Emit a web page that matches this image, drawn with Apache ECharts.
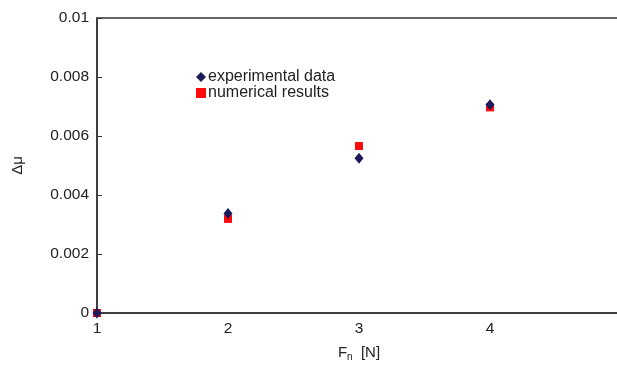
<!DOCTYPE html>
<html lang="en">
<head>
    <meta charset="utf-8">
    <title>Δμ vs Fn</title>
    <script src="https://cdn.jsdelivr.net/npm/echarts@6/dist/echarts.min.js"></script>
    <style>
        html, body { margin: 0; padding: 0; background: #fff; }
        #main { width: 617px; height: 365px; }
    </style>
</head>
<body>
<div id="main"></div>
<script type="text/javascript">
    // data
    var forces = [1, 2, 3, 4];
    var experimental = [0, 0.00337, 0.00525, 0.00706];
    var numerical = [0, 0.00319, 0.00566, 0.00697];
    var xTicks = [1, 2, 3, 4, 5];
    var yTicks = [0, 0.002, 0.004, 0.006, 0.008, 0.01];

    function pairs(xs, ys) {
        return xs.map(function (x, i) { return [x, ys[i]]; });
    }

    var font = 'Liberation Sans, Arial, sans-serif';
    var myChart = echarts.init(document.getElementById('main'));

    myChart.setOption({
        animation: false,
        textStyle: {fontFamily: font},
        grid: {
            left: 97, right: -4, top: 18, bottom: 52,
            containLabel: false,
            outerBoundsMode: 'none',
            show: true, borderColor: '#333', borderWidth: 1.5
        },
        legend: {
            orient: 'vertical',
            left: 191, top: 64,
            itemGap: 0,
            itemWidth: 10, itemHeight: 10,
            textStyle: {fontSize: 16, color: '#222', fontFamily: font, padding: [0, 0, 0, -3]},
            data: ['experimental data', 'numerical results']
        },
        xAxis: {
            type: 'value',
            min: xTicks[0], max: xTicks[xTicks.length - 1], interval: 1,
            name: '{a|F}{s|n}{a|  [N]}',
            nameLocation: 'middle',
            nameGap: 30,
            nameTextStyle: {
                rich: {
                    a: {fontSize: 15, color: '#222', fontFamily: font},
                    s: {fontSize: 10, color: '#222', fontFamily: font, verticalAlign: 'bottom', padding: [9, 0, 0, 0]}
                }
            },
            axisLine: {lineStyle: {color: '#333', width: 1.5}},
            axisTick: {show: false},
            splitLine: {show: false},
            axisLabel: {fontSize: 15.5, color: '#222', margin: 8, showMaxLabel: true}
        },
        yAxis: {
            type: 'value',
            min: yTicks[0], max: yTicks[yTicks.length - 1], interval: 0.002,
            name: 'Δμ',
            nameLocation: 'middle',
            nameGap: 72,
            nameTextStyle: {fontSize: 15, color: '#222'},
            axisLine: {lineStyle: {color: '#333', width: 1.5}},
            axisTick: {inside: true, length: 5, lineStyle: {color: '#333'}},
            splitLine: {show: false},
            axisLabel: {fontSize: 15.5, color: '#222', margin: 8}
        },
        series: [
            {
                name: 'numerical results',
                type: 'scatter',
                symbol: 'rect',
                symbolSize: 8,
                itemStyle: {color: '#ff0a0a', opacity: 1},
                data: pairs(forces, numerical)
            },
            {
                name: 'experimental data',
                type: 'scatter',
                symbol: 'diamond',
                symbolSize: [9, 11],
                itemStyle: {color: '#1b1b5c', opacity: 1},
                data: pairs(forces, experimental)
            }
        ]
    });
</script>
</body>
</html>
